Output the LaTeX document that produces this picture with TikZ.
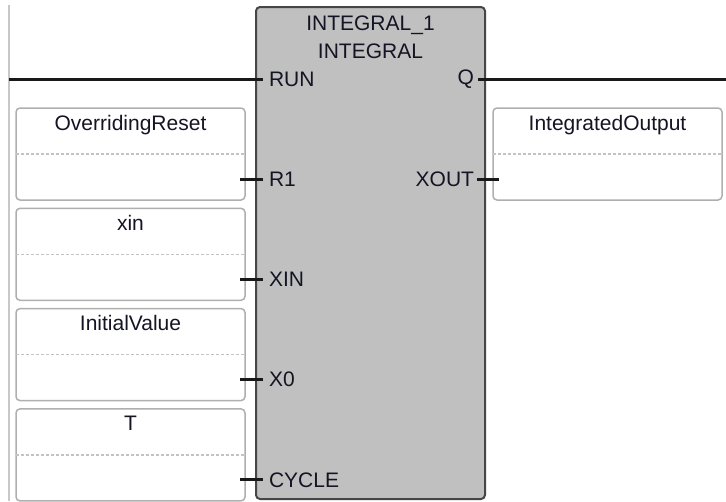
\documentclass[tikz,border=0pt]{standalone}
\usepackage{xcolor}
\usepackage{fontspec}
\setmainfont{Liberation Sans}
\usepackage{tikz}
\usetikzlibrary{positioning}

\definecolor{blockfill}{RGB}{192,192,192}
\definecolor{blockedge}{RGB}{70,70,70}
\definecolor{boxedge}{RGB}{175,175,175}
\definecolor{sepgray}{RGB}{195,195,195}
\definecolor{railgray}{RGB}{200,200,200}
\definecolor{wireblack}{RGB}{25,25,25}
\definecolor{labeltext}{RGB}{20,20,36}

\begin{document}
\begin{tikzpicture}[
  x=1pt, y=-1pt,
  every node/.style={font=\fontsize{21}{25}\selectfont, text=labeltext,
    inner sep=0pt, outer sep=0pt},
  varbox/.style={draw=boxedge, line width=1.5pt, rounded corners=4pt, fill=white,
    minimum width=229pt, minimum height=92pt},
  fblock/.style={draw=blockedge, line width=2pt, rounded corners=4pt, fill=blockfill,
    minimum width=229pt, minimum height=492pt},
  wire/.style={draw=wireblack, line width=3pt},
  rail/.style={draw=railgray, line width=1.5pt},
  sep/.style={draw=sepgray, line width=1.5pt, dash pattern=on 3pt off 2pt}
]
\useasboundingbox (0,0) rectangle (726,501);

% power rail
\coordinate (railtop) at (9,5);
\coordinate (railbot) at (9,501);
\draw[rail] (railtop) -- (railbot);

% function block
\node[fblock] (fb) at (370.5,253) {};
\node[anchor=base] (inst) at (370.5,30) {INTEGRAL\_1};
\node[anchor=base] (ftype) at (370.5,58) {INTEGRAL};

% RUN / Q rung
\coordinate (lrail) at (9,79);
\coordinate (rend) at (726,79);
\node[anchor=west] (run) at (269,79) {RUN};
\node[anchor=east] (q) at (474,79) {Q};
\draw[wire] (lrail) -- ([xshift=-6pt]run.west);
\draw[wire] ([xshift=4pt]q.east) -- (rend);

% input variables
\foreach \nm/\title/\pin [count=\i from 0] in
  {ovr/OverridingReset/R1, xin/xin/XIN, init/InitialValue/X0, per/T/CYCLE}
{
  \node[varbox, anchor=north west] (\nm) at (16,{108+100.3*\i}) {};
  \node[anchor=base] (\nm t) at ([yshift=-22pt]\nm.north) {\title};
  \draw[sep] (\nm.west) -- (\nm.east);
  \coordinate (\nm p) at ([yshift=21pt]\nm.south east);
  \node[anchor=west] (\nm l) at ([xshift=24pt]\nm p) {\pin};
  \draw[wire] ([xshift=-5pt]\nm p) -- ([xshift=-6pt]\nm l.west);
}

% output variable
\node[varbox, anchor=north west] (out) at (493,108) {};
\node[anchor=base] (outt) at ([yshift=-22pt]out.north) {IntegratedOutput};
\draw[sep] (out.west) -- (out.east);
\node[anchor=east] (xout) at (474,179) {XOUT};
\draw[wire] ([xshift=3pt]xout.east) -- ([xshift=6pt]out.west |- xout.east);
\end{tikzpicture}
\end{document}
